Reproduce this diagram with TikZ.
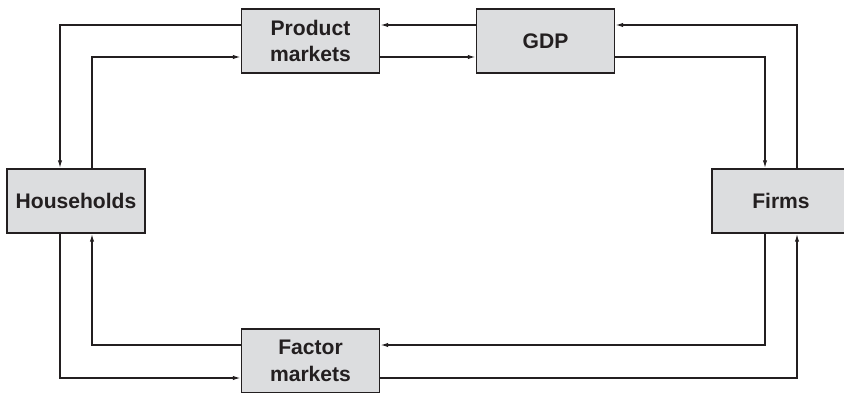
\documentclass[tikz,border=0pt]{standalone}
\usepackage{fontspec}
\setmainfont{Liberation Sans}
\usetikzlibrary{arrows.meta}
\definecolor{boxgray}{RGB}{220,221,223}
\definecolor{inkblack}{RGB}{35,31,32}
\tikzset{
	flowbox/.style={draw=inkblack,line width=1pt,fill=boxgray,minimum width=3.45cm,minimum height=1.6cm,align=center,text=inkblack,font=\fontsize{15}{19}\selectfont\bfseries},
	flow/.style={draw=inkblack,line width=1pt,-{Latex[length=2mm,width=1.1mm]}}
}
\newcommand{\sector}[4]{\node[flowbox] (#1) at (#2,#3) {#4};}
\newcommand{\upside}[1]{([yshift=0.4cm]#1)}
\newcommand{\downside}[1]{([yshift=-0.4cm]#1)}
\begin{document}
\begin{tikzpicture}
	\useasboundingbox (0,0) rectangle (21.1,9.8);
	\sector{hh}{1.9}{4.775}{Households} \sector{firms}{19.525}{4.775}{Firms}
	\sector{pm}{7.7625}{8.775}{Product\\markets} \sector{gdp}{13.6375}{8.775}{GDP}
	\sector{fm}{7.7625}{0.775}{Factor\\markets}
	% top half
	\draw[flow] \upside{pm.west} -| ([xshift=-0.4cm]hh.north);
	\draw[flow] ([xshift=0.4cm]hh.north) |- \downside{pm.west};
	\draw[flow] \upside{gdp.west} -- \upside{pm.east};
	\draw[flow] \downside{pm.east} -- \downside{gdp.west};
	\draw[flow] ([xshift=0.4cm]firms.north) |- \upside{gdp.east};
	\draw[flow] \downside{gdp.east} -| ([xshift=-0.4cm]firms.north);
	% bottom half
	\draw[flow] ([xshift=-0.4cm]hh.south) |- ([yshift=-0.425cm]fm.west);
	\draw[flow] \upside{fm.west} -| ([xshift=0.4cm]hh.south);
	\draw[flow] ([xshift=-0.4cm]firms.south) |- \upside{fm.east};
	\draw[flow] ([yshift=-0.425cm]fm.east) -| ([xshift=0.4cm]firms.south);
\end{tikzpicture}
\end{document}
